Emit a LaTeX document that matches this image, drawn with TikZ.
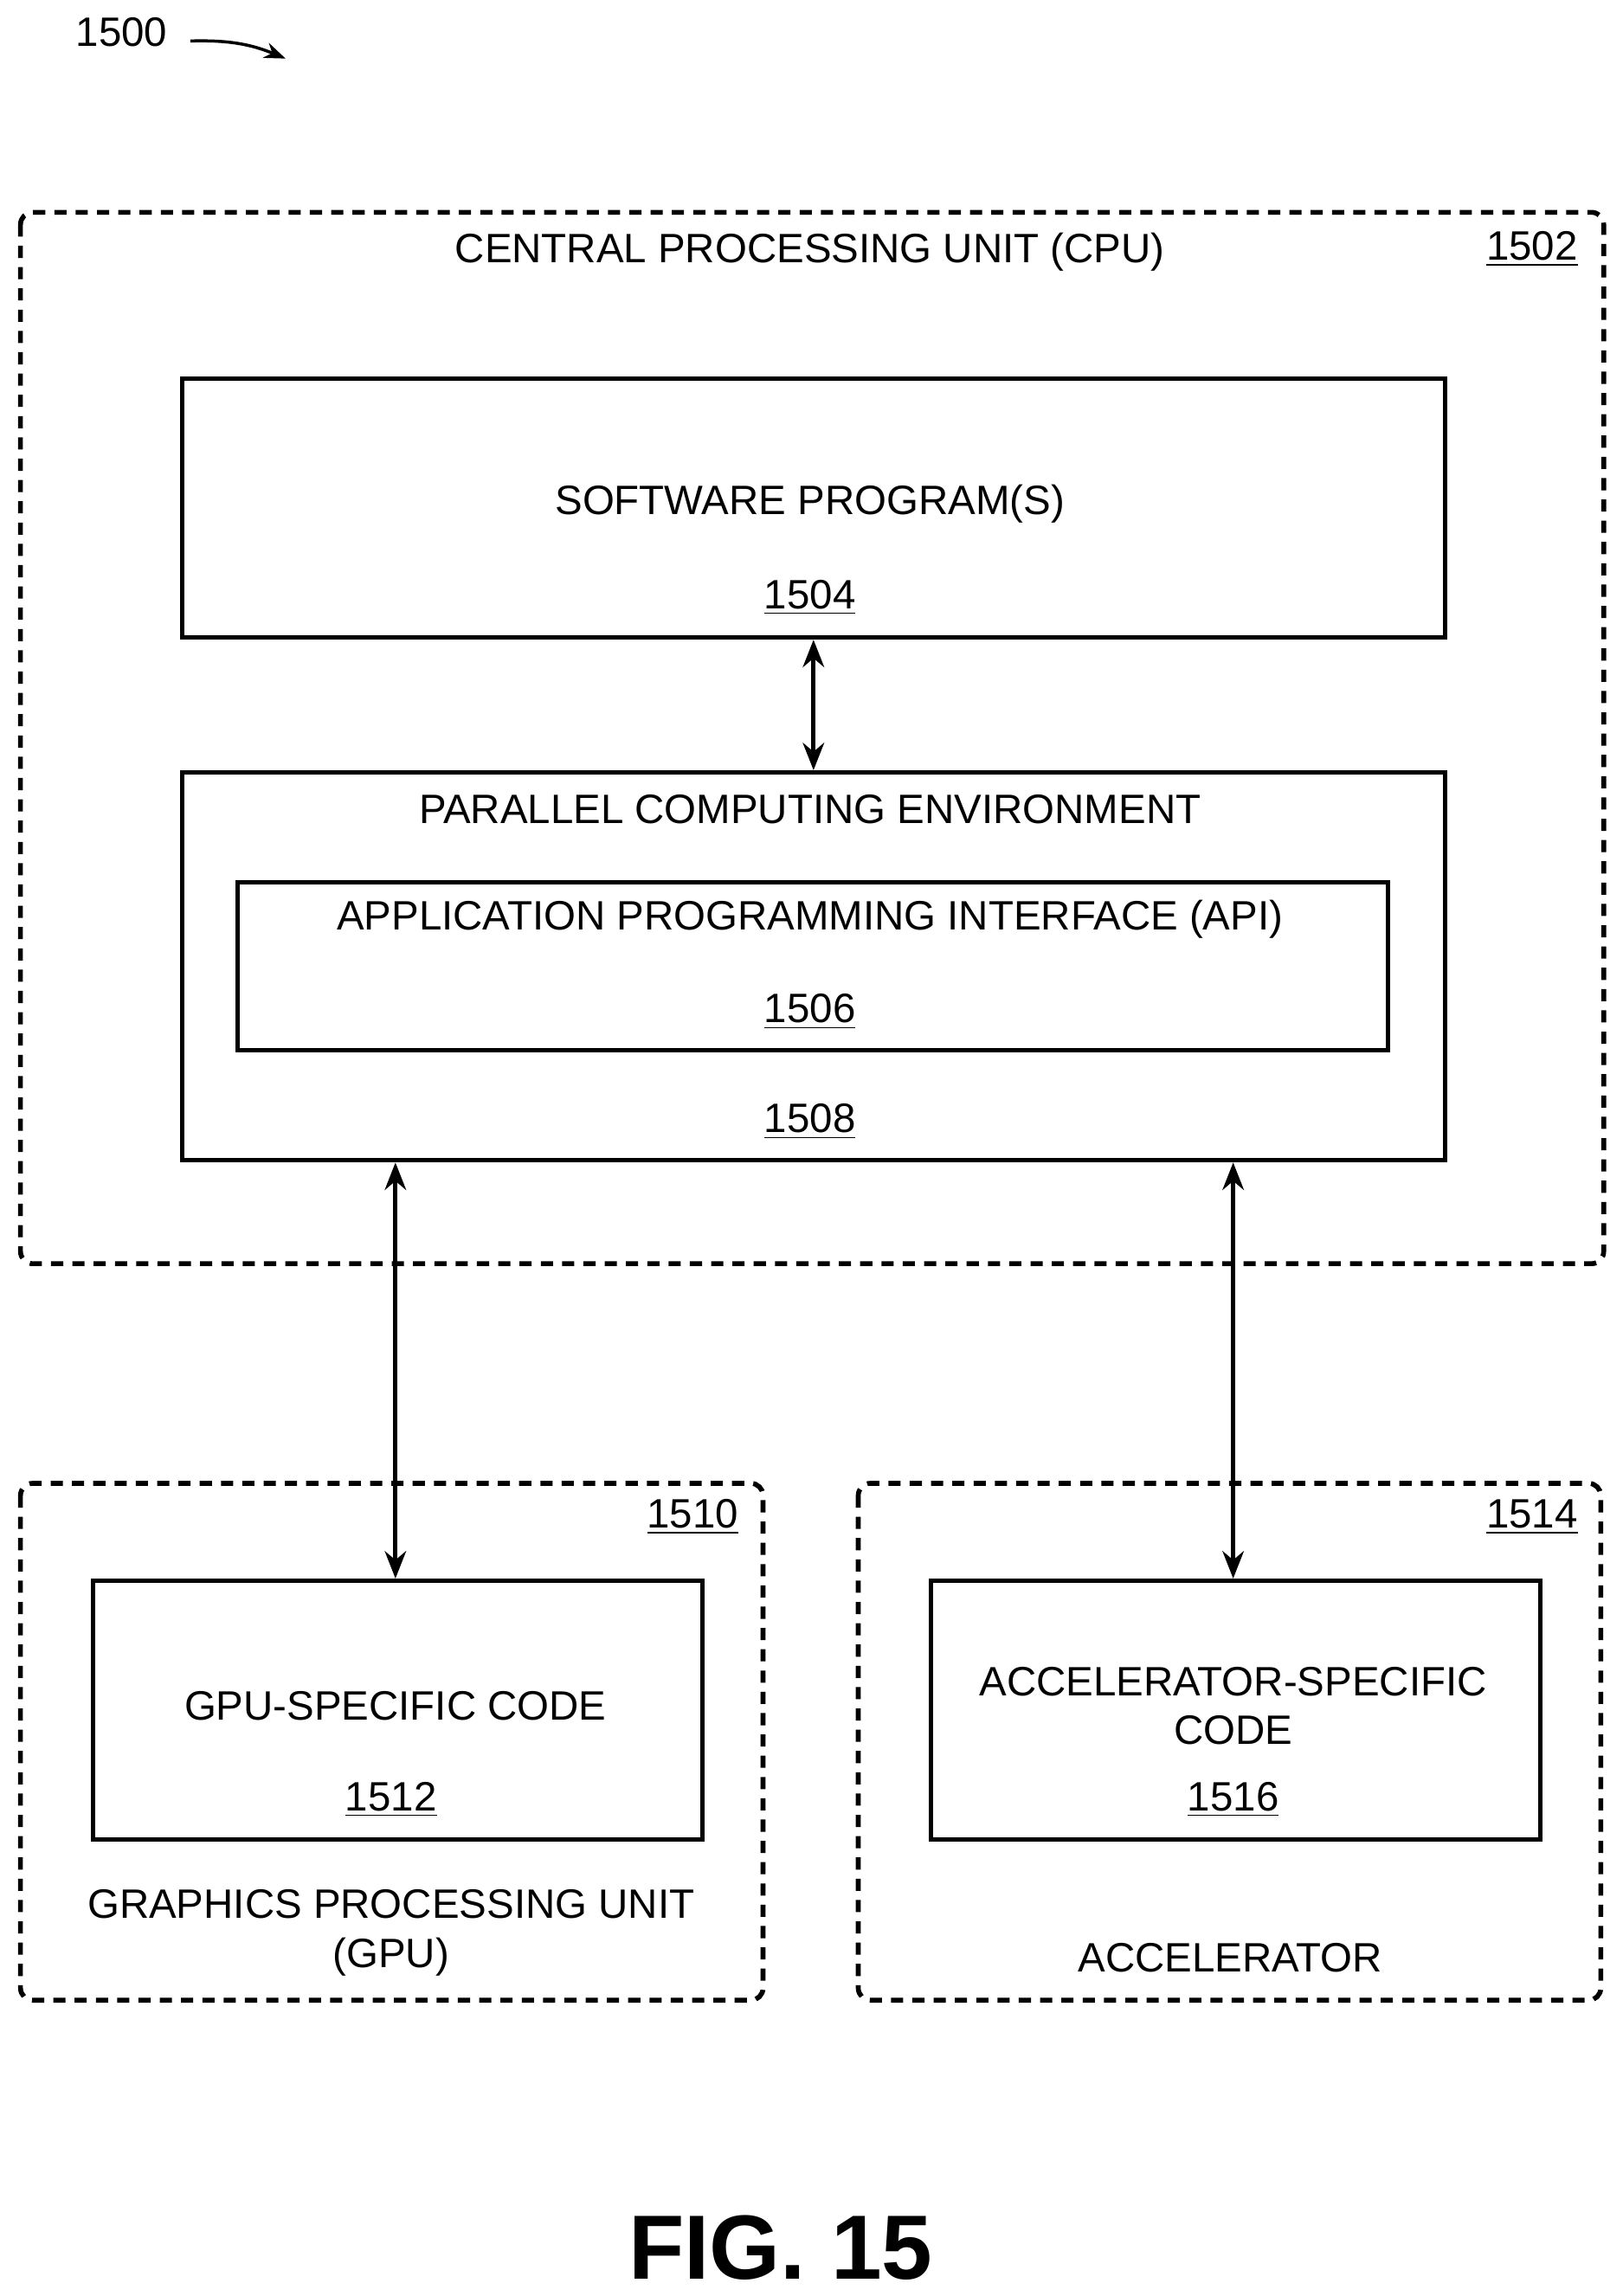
\documentclass[tikz,border=0pt]{standalone}
\usepackage{fontspec}
\setmainfont{Liberation Sans}
\usetikzlibrary{arrows.meta}

\tikzset{
    box/.style={draw, line width=1.4pt, rectangle, anchor=north west},
    dbox/.style={draw, line width=1.6pt, dash pattern=on 4pt off 3pt, rounded corners=4pt},
    lbl/.style={font=\fontsize{13.5}{16}\selectfont, align=center},
    num/.style={font=\fontsize{13.5}{16}\selectfont},
    link/.style={{Stealth[length=9pt,width=7pt]}-{Stealth[length=9pt,width=7pt]}, line width=1.4pt}
}
\newcommand{\ul}[1]{\underline{#1}}

\begin{document}
\begin{tikzpicture}[x=0.01692cm, y=-0.01692cm]
    \useasboundingbox (0,0) rectangle (1108,1568);

    \node (fignum) [num] at (83,22) {1500};
    \draw[-{Stealth[length=7pt]}, line width=1pt] (130,28) to[bend left=12] (195,40);

    % CPU
    \draw[dbox] (14,145) rectangle (1095,863);
    \node (cpu) [lbl] at (553,172) {CENTRAL PROCESSING UNIT (CPU)};
    \node (cpunum) [num] at (1046,170) {\ul{1502}};

    \node (sw) [box, minimum width=862*0.01692cm, minimum height=177*0.01692cm] at (123,257) {};
    \node [lbl] at (553,344) {SOFTWARE PROGRAM(S)};
    \node [num] at (553,408) {\ul{1504}};

    \node (pce) [box, minimum width=862*0.01692cm, minimum height=265*0.01692cm] at (123,526) {};
    \node [lbl] at (553,553) {PARALLEL COMPUTING ENVIRONMENT};
    \node [num] at (553,766) {\ul{1508}};

    \node (api) [box, minimum width=785*0.01692cm, minimum height=115*0.01692cm] at (161,601) {};
    \node [lbl] at (553,628) {APPLICATION PROGRAMMING INTERFACE (API)};
    \node [num] at (553,691) {\ul{1506}};

    % GPU
    \draw[dbox] (14,1013) rectangle (521,1366);
    \node [num] at (473,1036) {\ul{1510}};
    \node (gpucode) [box, minimum width=416*0.01692cm, minimum height=177*0.01692cm] at (62,1078) {};
    \node [lbl] at (270,1165) {GPU-SPECIFIC CODE};
    \node [num] at (267,1229) {\ul{1512}};
    \node [lbl] at (267,1320) {GRAPHICS PROCESSING UNIT\\(GPU)};

    % accelerator
    \draw[dbox] (586,1013) rectangle (1093,1366);
    \node [num] at (1046,1036) {\ul{1514}};
    \node (acccode) [box, minimum width=416*0.01692cm, minimum height=177*0.01692cm] at (634,1078) {};
    \node [lbl] at (842,1165) {ACCELERATOR-SPECIFIC\\CODE};
    \node [num] at (842,1229) {\ul{1516}};
    \node [lbl] at (840,1337) {ACCELERATOR};

    \node (fig) [font=\bfseries\fontsize{30}{34}\selectfont] at (533,1535) {FIG. 15};

    \draw[link] (sw.south) -- (pce.north);
    \draw[link] (pce.south west) ++(147,0) coordinate (p1) -- (p1 |- gpucode.north);
    \draw[link] (pce.south west) ++(719,0) coordinate (p2) -- (p2 |- acccode.north);
\end{tikzpicture}
\end{document}
